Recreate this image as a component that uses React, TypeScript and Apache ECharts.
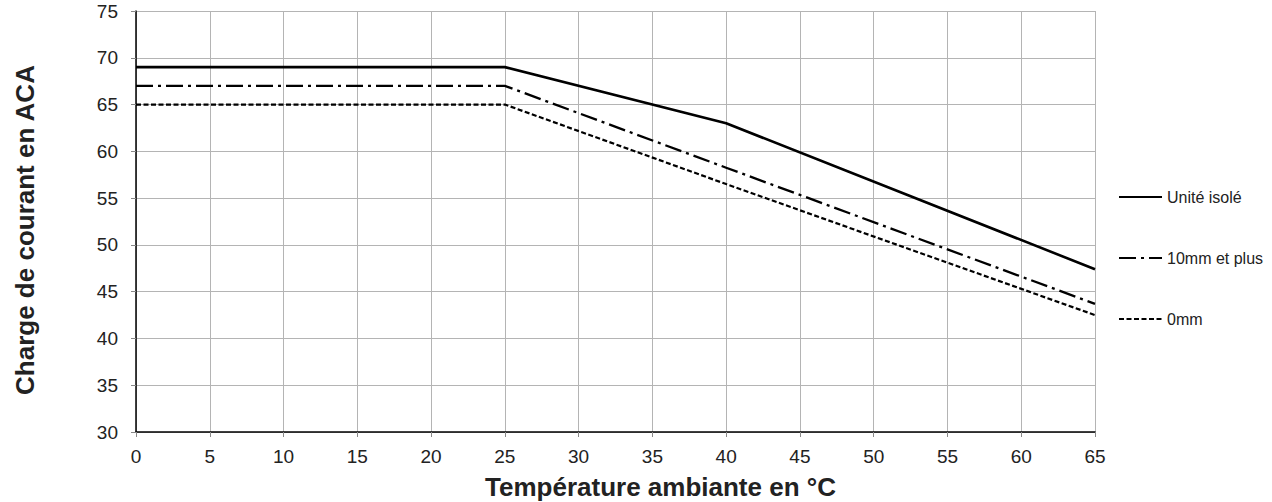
import React, { useEffect, useRef } from "react";
import * as echarts from "echarts";

const seriesNames = ["Unité isolé", "10mm et plus", "0mm"];
const xPoints = [0, 25, 40, 65];
const uniteIsole = [69, 69, 63, 47.4];
const dixMm = [67, 67, 58.25, 43.7];
const zeroMm = [65, 65, 56.5, 42.5];
const xTitle = "Température ambiante en °C";
const yTitle = "Charge de courant en ACA";

const font = "'Liberation Sans', Arial, sans-serif";

export default function App() {
  const ref = useRef<HTMLDivElement>(null);
  useEffect(() => {
    if (!ref.current) return;
    const chart = echarts.init(ref.current, null, { renderer: "svg" });
    const mk = (d: number[]) => xPoints.map((x, i) => [x, d[i]]);
    const styles: any[] = [
      { type: "solid", width: 2.6 },
      { type: [17, 5, 3, 5], width: 2.3 },
      { type: [5, 2.5], width: 2.2 },
    ];
    const datas = [uniteIsole, dixMm, zeroMm];
    chart.setOption({
      animation: false,
      backgroundColor: "#ffffff",
      grid: {
        left: 136,
        top: 11,
        right: 177,
        bottom: 70,
        containLabel: false,
        outerBoundsMode: "none",
      },
      legend: {
        orient: "vertical",
        left: 1118,
        top: 189,
        padding: 0,
        itemWidth: 43,
        itemHeight: 14,
        itemGap: 45,
        itemStyle: { opacity: 0 },
        textStyle: { fontSize: 16, lineHeight: 14, color: "#222", fontFamily: font },
        data: seriesNames,
      },
      xAxis: {
        type: "value",
        min: 0,
        max: 65,
        interval: 5,
        name: xTitle,
        nameLocation: "middle",
        nameGap: 42,
        nameTextStyle: {
          fontSize: 26,
          fontWeight: "bold",
          color: "#222",
          fontFamily: font,
          padding: [0, 0, 0, 90],
        },
        axisLine: { show: true, lineStyle: { color: "#000", width: 1.5 } },
        axisTick: { show: true, length: 5, lineStyle: { color: "#888" } },
        axisLabel: { fontSize: 19, color: "#222", margin: 15, fontFamily: font },
        splitLine: { show: true, lineStyle: { color: "#b4b4b4", width: 1 } },
      },
      yAxis: {
        type: "value",
        min: 30,
        max: 75,
        interval: 5,
        name: yTitle,
        nameLocation: "middle",
        nameGap: 98,
        nameTextStyle: {
          fontSize: 26,
          fontWeight: "bold",
          color: "#222",
          fontFamily: font,
          padding: [0, 17, 0, 0],
        },
        axisLine: { show: true, lineStyle: { color: "#000", width: 1.5 } },
        axisTick: { show: true, length: 5, lineStyle: { color: "#888" } },
        axisLabel: { fontSize: 19, color: "#222", margin: 18, fontFamily: font },
        splitLine: { show: true, lineStyle: { color: "#b4b4b4", width: 1 } },
      },
      series: seriesNames.map((n, i) => ({
        name: n,
        type: "line",
        data: mk(datas[i]),
        symbol: "none",
        showSymbol: false,
        color: "#000",
        lineStyle: { color: "#000", ...styles[i] },
      })),
    });
    return () => chart.dispose();
  }, []);
  return (
    <div
      ref={ref}
      style={{ position: "fixed", left: 0, top: 0, width: 1272, height: 502, background: "#fff" }}
    />
  );
}
